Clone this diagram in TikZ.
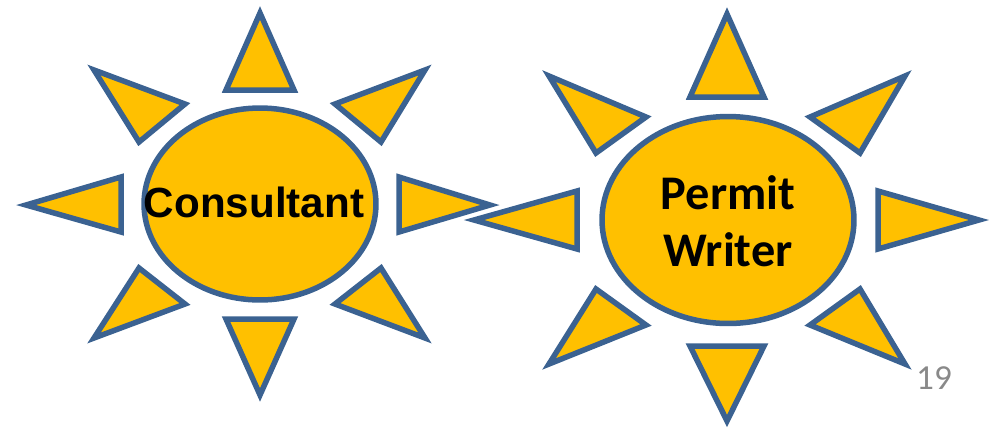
\documentclass[tikz,border=0pt]{standalone}
\usepackage{fontspec}
\usepackage{xcolor}
\usepackage{tikz}
\usetikzlibrary{shapes.geometric}
\setmainfont{Liberation Sans}
\newfontfamily\carlitofont{Carlito}
\definecolor{SunYellow}{HTML}{FFC000}
\definecolor{RayBlue}{HTML}{3B6291}
\definecolor{PageGray}{HTML}{898989}

\begin{document}
\begin{tikzpicture}[x=0.02cm, y=-0.02cm,
  sun_ray/.style={draw=RayBlue, line width=0.11cm, fill=SunYellow, miter limit=10},
  sun_node/.style={ellipse, draw=RayBlue, line width=0.11cm, fill=SunYellow,
    inner sep=0pt, outer sep=0pt, align=center, text=black},
  page_style/.style={font=\carlitofont\fontsize{20}{24}\selectfont, text=PageGray, inner sep=0pt}
]
  \useasboundingbox (0,0) rectangle (996,427);

  % left sun
  \node[sun_node, minimum width=4.64cm, minimum height=3.84cm,
    font=\bfseries\fontsize{24}{29}\selectfont] (consultant) at (260,204)
    {\makebox[0pt]{Consultant\kern 6.8pt}\rule[-2pt]{0pt}{1pt}};
  \draw[sun_ray] (260,13) -- (294,90) -- (226,90) -- cycle;
  \draw[sun_ray] (425,70) -- (335,104) -- (381,142) -- cycle;
  \draw[sun_ray] (490,205) -- (399,177) -- (399,232) -- cycle;
  \draw[sun_ray] (425,338) -- (381,268) -- (335,304) -- cycle;
  \draw[sun_ray] (260,395) -- (226,319) -- (294,319) -- cycle;
  \draw[sun_ray] (94,338) -- (139,268) -- (185,304) -- cycle;
  \draw[sun_ray] (26,205) -- (121,177) -- (121,232) -- cycle;
  \draw[sun_ray] (94,70) -- (185,104) -- (139,142) -- cycle;

  % right sun
  \node[sun_node, minimum width=5.04cm, minimum height=4.14cm,
    font=\carlitofont\bfseries\fontsize{27.5}{33}\selectfont] (permit) at (728,220)
    {\makebox[0pt]{\begin{tabular}{@{}c@{}}\rule{0pt}{30.5pt}Permit\\[-1pt]Writer\end{tabular}}};
  \draw[sun_ray] (727,14) -- (764,97) -- (690,97) -- cycle;
  \draw[sun_ray] (905,76) -- (810,117) -- (860,153) -- cycle;
  \draw[sun_ray] (979,220) -- (878,191) -- (878,249) -- cycle;
  \draw[sun_ray] (905,364) -- (860,289) -- (810,325) -- cycle;
  \draw[sun_ray] (727,421) -- (690,346) -- (764,346) -- cycle;
  \draw[sun_ray] (549,364) -- (596,289) -- (646,325) -- cycle;
  \draw[sun_ray] (474,220) -- (577,191) -- (577,249) -- cycle;
  \draw[sun_ray] (549,76) -- (646,117) -- (596,153) -- cycle;

  \node[page_style] (pagenum) at (934,378) {19};
\end{tikzpicture}
\end{document}
